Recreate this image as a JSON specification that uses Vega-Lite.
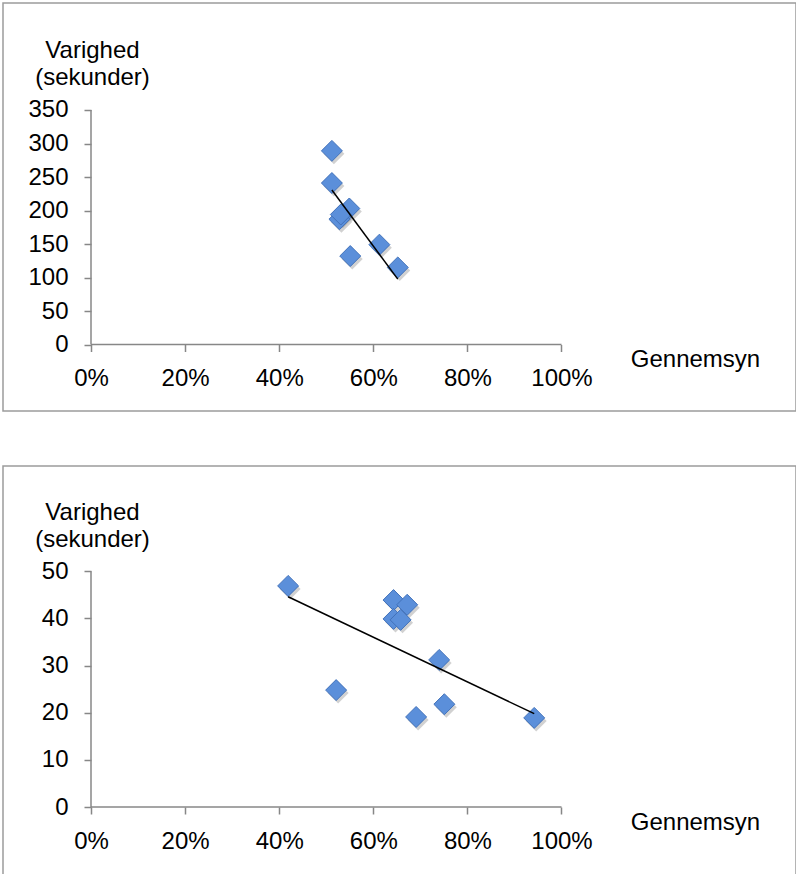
{
  "$schema": "https://vega.github.io/schema/vega-lite/v6.json",
  "description": "Varighed vs. gennemsyn, two scatter plots with trend lines",
  "padding": {"left": 2, "top": 2, "right": 1, "bottom": 2},
  "spacing": 53,
  "datasets": {
    "top": [
      {"x": 0.512, "y": 289},
      {"x": 0.512, "y": 241},
      {"x": 0.549, "y": 203},
      {"x": 0.528, "y": 187},
      {"x": 0.531, "y": 194},
      {"x": 0.551, "y": 132},
      {"x": 0.613, "y": 149},
      {"x": 0.652, "y": 115}
    ],
    "topTrend": [
      {"x": 0.512, "y": 230.6},
      {"x": 0.652, "y": 97.5}
    ],
    "topAxes": [
      {"x": 0, "x2": 1, "y": 0, "y2": 0},
      {"x": 0, "x2": 0, "y": 0, "y2": 350}
    ],
    "bottom": [
      {"x": 0.419, "y": 46.9},
      {"x": 0.643, "y": 43.9},
      {"x": 0.672, "y": 42.9},
      {"x": 0.643, "y": 39.9},
      {"x": 0.658, "y": 39.7},
      {"x": 0.740, "y": 31.2},
      {"x": 0.521, "y": 24.8},
      {"x": 0.691, "y": 19.1},
      {"x": 0.751, "y": 21.8},
      {"x": 0.942, "y": 18.9}
    ],
    "bottomTrend": [
      {"x": 0.419, "y": 44.6},
      {"x": 0.942, "y": 19.8}
    ],
    "bottomAxes": [
      {"x": 0, "x2": 1, "y": 0, "y2": 0},
      {"x": 0, "x2": 0, "y": 0, "y2": 50}
    ]
  },
  "vconcat": [
    {
      "width": 793,
      "height": 408,
      "encoding": {
        "x": {
          "field": "x",
          "type": "quantitative",
          "scale": {"domain": [-0.18704, 1.49841], "nice": false, "zero": false},
          "axis": {
            "orient": "bottom",
            "offset": -66.5,
            "values": [0, 0.2, 0.4, 0.6, 0.8, 1],
            "format": ".0%",
            "title": "Gennemsyn",
            "titleX": 692,
            "titleY": 22,
            "titleAlign": "center",
            "titleBaseline": "alphabetic"
          }
        },
        "y": {
          "field": "y",
          "type": "quantitative",
          "scale": {"domain": [-99.25, 509.7], "nice": false, "zero": false},
          "axis": {
            "orient": "left",
            "offset": -88,
            "values": [0, 50, 100, 150, 200, 250, 300, 350],
            "title": ["Varighed", "(sekunder)"],
            "titleX": 1,
            "titleY": 54.7,
            "titleAlign": "center",
            "titleBaseline": "alphabetic",
            "titleAngle": 0
          }
        }
      },
      "layer": [
        {
          "data": {"name": "topAxes"},
          "mark": {"type": "rule", "color": "#878787", "strokeWidth": 1.5},
          "encoding": {
            "x2": {"field": "x2"},
            "y2": {"field": "y2"}
          }
        },
        {
          "data": {"name": "top"},
          "mark": {"type": "point", "shape": "diamond", "filled": true, "size": 440, "color": "#000000", "opacity": 0.18, "xOffset": 2, "yOffset": 3}
        },
        {
          "data": {"name": "top"},
          "mark": {"type": "point", "shape": "diamond", "filled": true, "size": 440, "fill": "#5b8fda", "stroke": "#4272ba", "strokeWidth": 1, "opacity": 1}
        },
        {
          "data": {"name": "topTrend"},
          "mark": {"type": "line", "color": "#000000", "strokeWidth": 1.5}
        }
      ]
    },
    {
      "width": 793,
      "height": 409,
      "encoding": {
        "x": {
          "field": "x",
          "type": "quantitative",
          "scale": {"domain": [-0.18704, 1.49841], "nice": false, "zero": false},
          "axis": {
            "orient": "bottom",
            "offset": -68,
            "values": [0, 0.2, 0.4, 0.6, 0.8, 1],
            "format": ".0%",
            "title": "Gennemsyn",
            "titleX": 692,
            "titleY": 22,
            "titleAlign": "center",
            "titleBaseline": "alphabetic"
          }
        },
        "y": {
          "field": "y",
          "type": "quantitative",
          "scale": {"domain": [-14.425, 72.34], "nice": false, "zero": false},
          "axis": {
            "orient": "left",
            "offset": -88,
            "values": [0, 10, 20, 30, 40, 50],
            "title": ["Varighed", "(sekunder)"],
            "titleX": 1,
            "titleY": 53.7,
            "titleAlign": "center",
            "titleBaseline": "alphabetic",
            "titleAngle": 0
          }
        }
      },
      "layer": [
        {
          "data": {"name": "bottomAxes"},
          "mark": {"type": "rule", "color": "#878787", "strokeWidth": 1.5},
          "encoding": {
            "x2": {"field": "x2"},
            "y2": {"field": "y2"}
          }
        },
        {
          "data": {"name": "bottom"},
          "mark": {"type": "point", "shape": "diamond", "filled": true, "size": 440, "color": "#000000", "opacity": 0.18, "xOffset": 2, "yOffset": 3}
        },
        {
          "data": {"name": "bottom"},
          "mark": {"type": "point", "shape": "diamond", "filled": true, "size": 440, "fill": "#5b8fda", "stroke": "#4272ba", "strokeWidth": 1, "opacity": 1}
        },
        {
          "data": {"name": "bottomTrend"},
          "mark": {"type": "line", "color": "#000000", "strokeWidth": 1.5}
        }
      ]
    }
  ],
  "config": {
    "font": "Liberation Sans",
    "view": {"stroke": "#9c9c9c", "strokeWidth": 1.5},
    "axis": {
      "domain": false,
      "grid": false,
      "ticks": true,
      "tickSize": 7,
      "tickWidth": 1.5,
      "tickColor": "#878787",
      "labelFont": "Liberation Sans",
      "labelFontSize": 24,
      "labelColor": "#000000",
      "labelPadding": 15,
      "titleFont": "Liberation Sans",
      "titleFontSize": 24,
      "titleFontWeight": "normal",
      "titleColor": "#000000",
      "titleLineHeight": 26.5
    },
    "axisLeft": {"labelPadding": 16}
  }
}
